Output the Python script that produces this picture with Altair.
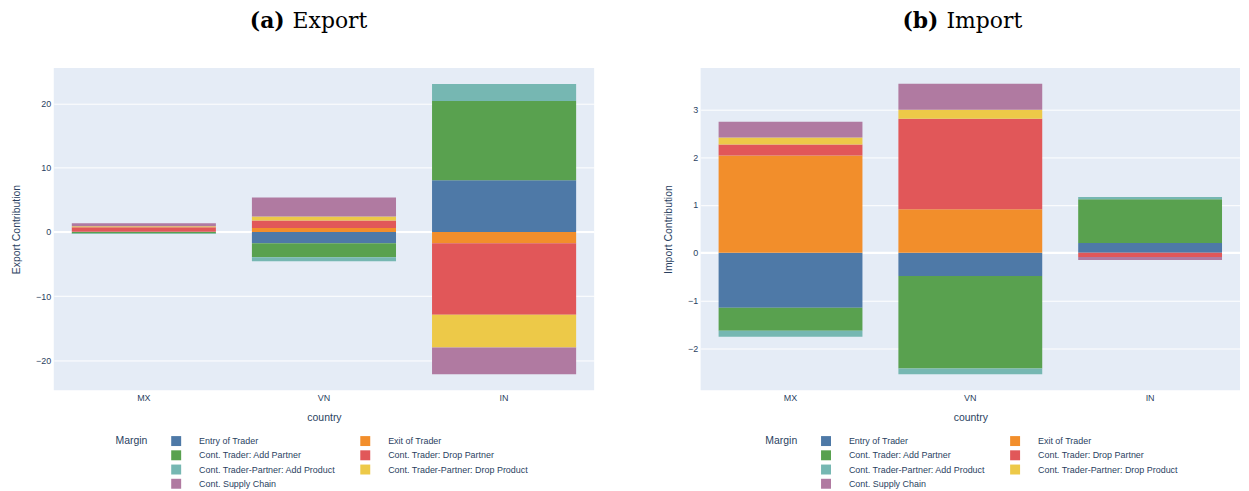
import altair as alt
import pandas as pd

countries = ["MX", "VN", "IN"]
margins = [
    "Entry of Trader",
    "Exit of Trader",
    "Cont. Trader: Add Partner",
    "Cont. Trader: Drop Partner",
    "Cont. Trader-Partner: Add Product",
    "Cont. Trader-Partner: Drop Product",
    "Cont. Supply Chain",
]
colors = ["#4e79a7", "#f28e2b", "#59a14f", "#e15759", "#76b7b2", "#edc948", "#b07aa1"]

# Export contributions, per country, in margin order
export_mx = [0.02, 0.03, -0.22, 0.68, -0.10, 0.15, 0.47]
export_vn = [-1.76, 0.62, -2.18, 1.19, -0.62, 0.62, 2.95]
export_in = [8.07, -1.75, 12.38, -11.18, 2.64, -5.08, -4.19]

# Import contributions, per country, in margin order
import_mx = [-1.153, 2.035, -0.479, 0.229, -0.125, 0.146, 0.333]
import_vn = [-0.486, 0.910, -1.938, 1.896, -0.118, 0.188, 0.542]
import_in = [0.202, 0.0, 0.917, -0.090, 0.048, 0.0, -0.062]

export_ticks = [-20, -10, 0, 10, 20]
import_ticks = [-2, -1, 0, 1, 2, 3]
export_domain = [-24.7, 25.6]
import_domain = [-2.88, 3.87]

tags = ["(a)", "(b)"]
words = ["Export", "Import"]
ytitles = ["Export Contribution", "Import Contribution"]

FONT = "Liberation Sans"
TXT = "#2a3f5f"


def make_df(series):
    rows = []
    for c, vals in zip(countries, series):
        for i, (m, v) in enumerate(zip(margins, vals)):
            rows.append({"country": c, "margin": m, "value": v, "idx": i})
    return pd.DataFrame(rows)


def panel(df, ytitle, domain, ticks, w, tag, word, tagx, wordx, legx):
    h = 324
    yscale = alt.Scale(domain=domain, nice=False, zero=False)
    yaxis = alt.Axis(values=ticks, title=ytitle, labelPadding=3, titlePadding=14, format="d")
    zero = alt.Chart(pd.DataFrame({"value": [0]})).mark_rule(color="white", strokeWidth=2).encode(
        y=alt.Y("value:Q", scale=yscale, axis=yaxis)
    )
    bars = alt.Chart(df).mark_bar().encode(
        x=alt.X(
            "country:N",
            sort=countries,
            scale=alt.Scale(paddingInner=0.2, paddingOuter=0.1),
            axis=alt.Axis(title="country", labelAngle=0, grid=False, labelPadding=3, titlePadding=10),
        ),
        y=alt.Y("value:Q", stack="zero", scale=yscale, axis=yaxis),
        color=alt.Color(
            "margin:N",
            sort=margins,
            scale=alt.Scale(domain=margins, range=colors),
            legend=alt.Legend(
                title="Margin",
                orient="none",
                legendX=legx,
                legendY=370,
                direction="horizontal",
                columns=2,
                titleOrient="left",
                titleAnchor="start",
                titleBaseline="top",
                titleFontSize=10.5,
                titleFontWeight="normal",
                titleColor=TXT,
                titleFont=FONT,
                titlePadding=23,
                labelFontSize=9,
                labelColor=TXT,
                labelFont=FONT,
                labelLimit=400,
                labelOffset=18,
                symbolType="square",
                symbolSize=100,
                symbolStrokeWidth=0,
                columnPadding=24,
                rowPadding=4.3,
            ),
        ),
        order=alt.Order("idx:Q", sort="ascending"),
    )
    tag_t = alt.Chart(pd.DataFrame({"t": [tag]})).mark_text(
        font="DejaVu Serif", fontSize=22, fontWeight="bold", align="right", baseline="alphabetic", color="black"
    ).encode(x=alt.value(tagx), y=alt.value(-40), text="t:N")
    word_t = alt.Chart(pd.DataFrame({"t": [word]})).mark_text(
        font="DejaVu Serif", fontSize=22, fontWeight="normal", align="left", baseline="alphabetic", color="black"
    ).encode(x=alt.value(wordx), y=alt.value(-40), text="t:N")
    return alt.layer(zero, bars, tag_t, word_t).properties(width=w, height=h)


left = panel(make_df([export_mx, export_vn, export_in]), ytitles[0], export_domain, export_ticks,
             543, tags[0], words[0], 232, 240, 62)
right = panel(make_df([import_mx, import_vn, import_in]), ytitles[1], import_domain, import_ticks,
              542, tags[1], words[1], 239, 247, 65)

chart = (
    alt.hconcat(left, right, spacing=68)
    .resolve_scale(color="independent", y="independent", x="independent")
    .resolve_legend(color="independent")
    .properties(padding={"left": 3, "top": 1, "right": 0, "bottom": 0})
    .configure(font=FONT)
    .configure_view(fill="#e5ecf6", stroke=None)
    .configure_axis(
        domain=False,
        ticks=False,
        gridColor="white",
        gridWidth=1,
        labelColor=TXT,
        titleColor=TXT,
        labelFont=FONT,
        titleFont=FONT,
        labelFontSize=9,
        titleFontSize=10.5,
        titleFontWeight="normal",
    )
)

chart.save("out.html", embed_options={"renderer": "svg", "actions": False})
